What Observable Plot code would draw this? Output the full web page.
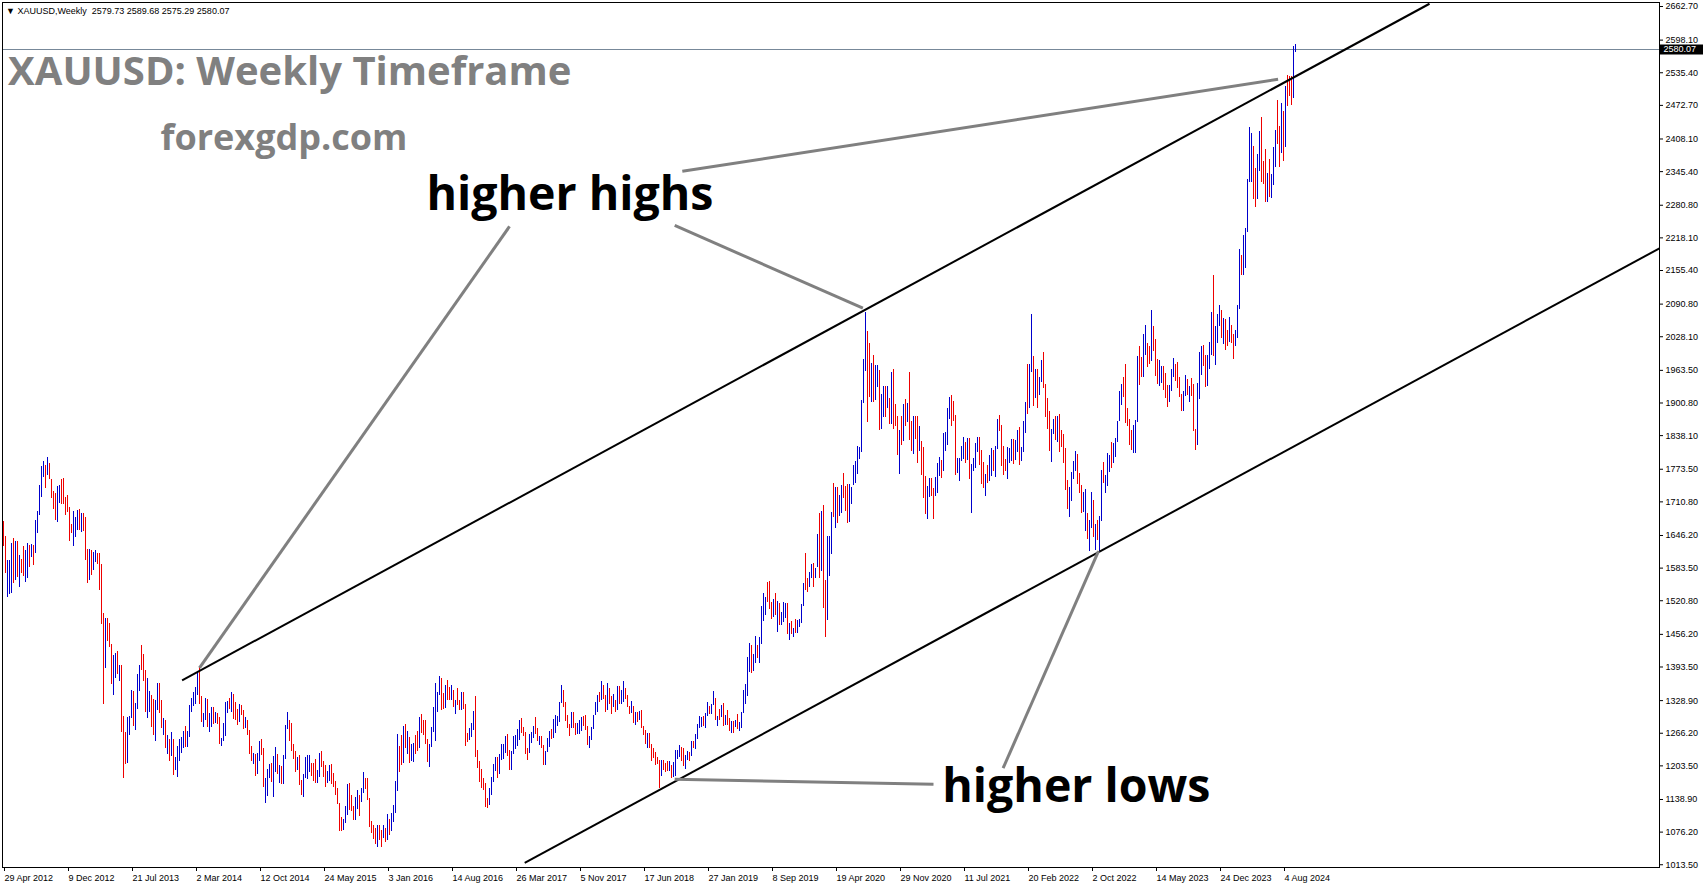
<!DOCTYPE html>
<html>
<head>
<meta charset="utf-8">
<script src="https://cdn.jsdelivr.net/npm/d3@7"></script>
<script src="https://cdn.jsdelivr.net/npm/@observablehq/plot@0.6"></script>
<style>
  html, body { margin: 0; padding: 0; background: #ffffff; }
  #chart svg { display: block; }
</style>
</head>
<body>
<div id="chart"></div>
<script>
// ---------- DATA (weekly XAUUSD bars, week 0 = 29 Apr 2012) ----------
const high = [
  // 2012
  1673,1644,1598,1599,1630,1641,1634,1634,1607,1601,1625,1618,1630,1627,1628,1627,1675,1693,1742,1779,1789,1781,1797,1785,1753,1731,1726,1740,1742,1753,1755,1720,1723,1700,1667,1693,
  // 2013
  1680,1695,1697,1688,1688,1680,1620,1619,1618,1614,1617,1612,1612,1590,1497,1486,1487,1478,1437,1415,1420,1424,1397,1396,1298,1267,1297,1298,1348,1346,1323,1380,1397,1434,1418,1386,1372,1346,1339,1331,1330,1361,1361,1329,1294,1290,1262,1255,1267,1254,1220,1240,
  // 2014
  1255,1258,1270,1280,1270,1320,1332,1345,1355,1385,1392,1337,1305,1332,1331,1305,1315,1316,1306,1304,1296,1257,1285,1325,1327,1332,1345,1340,1325,1311,1322,1320,1310,1296,1291,1272,1240,1228,1225,1227,1250,1255,1237,1179,1196,1207,1209,1221,1238,1225,1205,1202,
  // 2015
  1223,1282,1307,1290,1285,1245,1231,1220,1224,1176,1187,1219,1224,1223,1209,1208,1215,1195,1227,1232,1211,1204,1192,1205,1206,1188,1173,1160,1132,1105,1101,1126,1168,1170,1147,1125,1142,1156,1146,1160,1191,1180,1179,1141,1097,1088,1083,1088,1088,1080,1089,1084,
  // 2016
  1110,1101,1112,1127,1173,1263,1240,1261,1280,1283,1270,1258,1245,1246,1262,1270,1296,1303,1290,1290,1255,1245,1278,1316,1362,1344,1375,1372,1342,1357,1367,1354,1358,1348,1330,1352,1330,1345,1344,1322,1265,1275,1284,1308,1337,1233,1212,1196,1180,1170,1140,1160,
  // 2017
  1182,1207,1220,1220,1225,1245,1245,1260,1264,1233,1232,1259,1261,1274,1290,1295,1277,1267,1237,1264,1267,1280,1296,1275,1260,1260,1242,1232,1256,1270,1274,1292,1301,1299,1326,1357,1348,1326,1300,1283,1306,1306,1284,1284,1290,1297,1298,1300,1280,1260,1277,1300,
  // 2018
  1326,1339,1345,1366,1357,1339,1362,1352,1336,1341,1330,1356,1356,1349,1365,1353,1338,1318,1328,1318,1307,1307,1308,1309,1280,1272,1265,1265,1245,1236,1229,1220,1214,1214,1214,1209,1212,1211,1204,1210,1233,1233,1243,1238,1237,1224,1231,1229,1251,1250,1263,1283,1298,
  // 2019
  1297,1299,1305,1326,1318,1322,1346,1333,1299,1311,1320,1324,1300,1310,1295,1289,1289,1290,1303,1287,1307,1348,1359,1411,1439,1435,1418,1452,1434,1451,1510,1535,1527,1555,1557,1517,1524,1535,1519,1516,1499,1517,1516,1516,1478,1480,1467,1485,1482,1485,1514,
  // 2020
  1553,1611,1564,1575,1591,1592,1582,1649,1689,1692,1703,1560,1645,1645,1690,1747,1738,1739,1723,1743,1765,1740,1745,1744,1739,1780,1789,1818,1815,1906,1984,2075,2039,2015,1977,1992,1973,1973,1963,1917,1933,1933,1933,1910,1960,1966,1898,1875,1848,1875,1897,1907,1900,
  // 2021
  1959,1866,1875,1875,1875,1855,1826,1815,1759,1740,1755,1756,1736,1758,1785,1797,1790,1843,1845,1890,1912,1916,1903,1877,1795,1795,1818,1834,1825,1832,1832,1782,1795,1823,1834,1834,1809,1787,1764,1781,1800,1814,1810,1818,1869,1877,1858,1817,1793,1815,1814,1830,
  // 2022
  1831,1828,1847,1853,1816,1865,1902,1974,1974,2070,1990,1966,1966,1950,1982,1998,1936,1910,1884,1850,1869,1874,1875,1879,1847,1840,1813,1752,1739,1767,1788,1807,1802,1765,1743,1729,1735,1688,1675,1729,1714,1668,1675,1683,1771,1786,1761,1804,1800,1825,1823,1833,
  // 2023
  1865,1922,1937,1949,1975,1890,1870,1847,1857,1868,1990,2009,1988,2032,2049,2015,2009,2079,2048,2022,1985,1983,1971,1971,1958,1935,1935,1965,1987,1975,1979,1950,1918,1922,1953,1946,1932,1947,1936,1850,1938,1997,2009,2012,1992,1993,2017,2075,2146,2048,2070,2088,
  // 2024
  2079,2063,2062,2041,2065,2049,2032,2041,2088,2195,2185,2223,2236,2330,2431,2418,2393,2352,2378,2422,2450,2364,2388,2342,2368,2339,2392,2424,2483,2432,2477,2461,2509,2531,2529,2529,2586,2590
];
const low = [
  // 2012
  1625,1574,1527,1533,1534,1554,1560,1566,1547,1574,1567,1556,1563,1585,1603,1588,1611,1650,1685,1720,1758,1736,1761,1753,1717,1697,1675,1672,1707,1706,1705,1684,1690,1635,1650,1625,
  // 2013
  1643,1656,1655,1651,1653,1598,1554,1560,1570,1578,1595,1590,1540,1476,1321,1390,1443,1431,1359,1338,1372,1380,1366,1268,1180,1207,1208,1261,1294,1280,1272,1311,1346,1387,1366,1306,1295,1306,1277,1261,1251,1310,1304,1276,1262,1237,1226,1211,1221,1185,1195,1182,
  // 2014
  1211,1227,1236,1238,1238,1258,1307,1318,1322,1338,1321,1286,1277,1290,1278,1268,1277,1283,1284,1283,1245,1240,1250,1259,1305,1311,1307,1292,1290,1282,1286,1301,1273,1275,1262,1226,1212,1206,1183,1187,1211,1223,1161,1131,1145,1180,1172,1142,1190,1187,1170,1167,
  // 2015
  1167,1216,1274,1250,1232,1216,1191,1195,1165,1147,1142,1180,1178,1191,1183,1174,1170,1169,1182,1200,1181,1162,1170,1174,1168,1162,1147,1130,1077,1077,1080,1093,1108,1118,1116,1098,1099,1120,1107,1134,1150,1158,1137,1085,1074,1062,1052,1046,1061,1046,1063,1056,
  // 2016
  1061,1070,1078,1094,1112,1154,1191,1205,1209,1236,1226,1208,1212,1210,1226,1231,1236,1265,1262,1245,1210,1200,1239,1268,1250,1307,1338,1310,1311,1313,1330,1330,1330,1316,1302,1320,1309,1310,1312,1241,1248,1253,1258,1272,1220,1199,1171,1160,1156,1124,1122,1127,
  // 2017
  1146,1172,1193,1180,1187,1214,1216,1227,1222,1195,1195,1226,1235,1240,1252,1266,1259,1225,1214,1227,1247,1256,1264,1250,1242,1236,1205,1204,1229,1239,1254,1256,1266,1280,1287,1324,1315,1288,1276,1260,1275,1276,1262,1263,1263,1270,1280,1272,1243,1236,1253,1273,
  // 2018
  1301,1307,1326,1330,1331,1307,1310,1321,1303,1316,1307,1309,1321,1321,1325,1331,1316,1302,1305,1285,1282,1286,1290,1276,1261,1245,1237,1236,1211,1218,1204,1206,1160,1183,1195,1190,1193,1193,1180,1182,1183,1215,1219,1211,1202,1196,1213,1211,1221,1236,1234,1255,1276,
  // 2019
  1277,1280,1275,1298,1302,1302,1320,1290,1280,1290,1297,1280,1281,1281,1270,1266,1266,1278,1274,1270,1276,1305,1321,1337,1382,1381,1385,1400,1409,1400,1436,1480,1492,1517,1504,1484,1489,1493,1459,1474,1474,1479,1487,1456,1445,1456,1450,1457,1458,1469,1477,
  // 2020
  1509,1540,1536,1546,1563,1547,1563,1584,1563,1577,1505,1451,1482,1567,1610,1680,1660,1670,1683,1688,1717,1693,1670,1671,1705,1742,1747,1763,1793,1805,1900,1962,1863,1911,1902,1902,1906,1931,1848,1849,1873,1872,1890,1860,1859,1850,1855,1800,1764,1819,1826,1855,1864,
  // 2021
  1829,1807,1802,1830,1784,1807,1761,1717,1687,1676,1719,1722,1677,1721,1727,1759,1756,1769,1808,1819,1869,1856,1866,1761,1766,1750,1789,1792,1784,1790,1753,1688,1770,1775,1805,1780,1745,1737,1721,1746,1750,1759,1770,1758,1812,1846,1778,1762,1770,1753,1785,1789,
  // 2022
  1782,1790,1805,1780,1788,1806,1842,1878,1890,1960,1895,1910,1890,1915,1940,1928,1872,1850,1807,1787,1840,1828,1825,1805,1816,1784,1732,1697,1681,1711,1753,1770,1744,1727,1688,1691,1654,1639,1615,1659,1642,1617,1637,1616,1673,1747,1727,1741,1768,1774,1785,1797,
  // 2023
  1824,1866,1896,1911,1861,1855,1819,1809,1804,1804,1863,1934,1949,1949,1993,1969,1975,1981,2000,1951,1937,1932,1938,1925,1910,1893,1902,1922,1949,1942,1928,1912,1885,1884,1914,1915,1901,1913,1846,1810,1820,1908,1953,1970,1931,1932,1965,1993,1990,1973,2016,2047,
  // 2024
  2024,2013,2001,2010,2018,2015,1984,2009,2024,2080,2146,2146,2160,2228,2325,2325,2291,2277,2291,2345,2325,2321,2287,2286,2296,2293,2319,2353,2398,2353,2381,2364,2392,2471,2490,2472,2485,2575
];
// u = bullish week (close above open), d = bearish week
const direction = [
  "dduuududud","duududuuuu","ududddduud","dddddu",
  "uududddudu","uddddudddu","ududdduuud","uuuddduudd","uuddududud","uu",
  "uuuduuuuuu","dduuduudud","duuuududdd","uddudddudu","udduuuduud","ud",
  "uuuddddudd","uuuuddduud","dduudddddd","uuuddduudu","uddddddudd","ud",
  "uduuuuddud","uduudduddd","duuuuuuddu","ddududdudd","duuudddddd","du",
  "uuuduuuudd","uuuuuddddu","uuddudduuu","duuuuudddd","udduuudddu","uu",
  "uududduddu","duduudddud","ududdduddd","dddudddudu","uuudduudud","uuu",
  "uduuduudud","ududdududu","uuuuuduudu","uuudddudud","uuudududuu","u",
  "udduuduudu","dduuududuu","ddduuuuuuu","uudduduudu","udududddud","udu",
  "dduddudddu","udduuuduuu","uddduuuudu","duuuudddud","uuduuddddu","uu",
  "duuduuuduu","duduuddddu","ududdddduu","uuddduuduu","duduuduuud","uu",
  "uuuddddduu","udduuddudd","duuddduuud","ddduududdd","uuudduuudu","uu",
  "duddudduuu","duuuuudduu","ddduduuudd","ududdduu"
].join("");

// x-axis: week index of each date label, and its text
const xTickWeek = [0,32,64,96,128,160,192,224,256,288,320,352,384,416,448,480,512,544,576,608,640];
const xTickLabels = ["29 Apr 2012","9 Dec 2012","21 Jul 2013","2 Mar 2014","12 Oct 2014","24 May 2015","3 Jan 2016","14 Aug 2016","26 Mar 2017","5 Nov 2017","17 Jun 2018","27 Jan 2019","8 Sep 2019","19 Apr 2020","29 Nov 2020","11 Jul 2021","20 Feb 2022","2 Oct 2022","14 May 2023","24 Dec 2023","4 Aug 2024"];
// y-axis price ticks
const yTicks = [2662.70,2598.10,2535.40,2472.70,2408.10,2345.40,2280.80,2218.10,2155.40,2090.80,2028.10,1963.50,1900.80,1838.10,1773.50,1710.80,1646.20,1583.50,1520.80,1456.20,1393.50,1328.90,1266.20,1203.50,1138.90,1076.20,1013.50];
const lastBar = {open: 2579.73, high: 2589.68, low: 2575.29, close: 2580.07};

// trend channel (week index, price)
const channelLines = [
  {w1: 89.3, p1: 1368, w2: 713, p2: 2668},
  {w1: 260.6, p1: 1017, w2: 828, p2: 2198}
];
// grey pointer lines from annotations to swing points
const pointerLines = [
  {w1: 253, p1: 2240, w2: 98, p2: 1392},
  {w1: 335.6, p1: 2242, w2: 429.7, p2: 2083},
  {w1: 339.4, p1: 2346, w2: 637.3, p2: 2523},
  {w1: 499.8, p1: 1199, w2: 547.5, p2: 1616},
  {w1: 465, p1: 1168, w2: 335.6, p2: 1178}
];
const annotations = [
  {w: 211.5, p: 2271, text: "higher highs"},
  {w: 469.4, p: 1134, text: "higher lows"}
];
const titleText = "XAUUSD: Weekly Timeframe";
const siteText = "forexgdp.com";
const headerText = `\u25BC XAUUSD,Weekly  ${lastBar.open} ${lastBar.high} ${lastBar.low} ${lastBar.close}`;

// ---------- CHART ----------
const bars = high.map((h, i) => ({w: i, high: h, low: low[i], up: direction[i] === "u"}));
const xMax = 828;
const tickLabelOf = new Map(xTickWeek.map((w, k) => [w, xTickLabels[k]]));
const axisFont = "Liberation Sans, Arial, sans-serif";
const bigFont = "Open Sans, Noto Sans, sans-serif";

const chart = Plot.plot({
  width: 1705,
  height: 888,
  marginLeft: 2,
  marginRight: 46,
  marginTop: 2,
  marginBottom: 21,
  style: {background: "#ffffff", fontFamily: axisFont, fontSize: "9px", color: "#000"},
  x: {domain: [-0.5, xMax], axis: null},
  y: {domain: [1008.2, 2670.4], axis: null},
  marks: [
    Plot.ruleY([lastBar.close], {stroke: "#778899", strokeWidth: 1, shapeRendering: "crispEdges"}),
    Plot.ruleX(bars, {x: "w", y1: "low", y2: "high", stroke: d => d.up ? "#0000cc" : "#ee0000",
      strokeWidth: 1, shapeRendering: "crispEdges"}),
    Plot.link(channelLines, {x1: "w1", y1: "p1", x2: "w2", y2: "p2", stroke: "#000000", strokeWidth: 2, clip: true}),
    Plot.link(pointerLines, {x1: "w1", y1: "p1", x2: "w2", y2: "p2", stroke: "#808080", strokeWidth: 3}),
    Plot.text(annotations, {x: "w", y: "p", text: "text", textAnchor: "start", lineAnchor: "bottom",
      fontFamily: bigFont, fontWeight: 700, fontSize: 46.5, fill: "#000000"}),
    Plot.text([titleText], {frameAnchor: "top-left", text: d => d, textAnchor: "start", lineAnchor: "bottom",
      dx: 5.6, dy: 82, fontFamily: bigFont, fontWeight: 700, fontSize: 40, fill: "#808080"}),
    Plot.text([siteText], {frameAnchor: "top-left", text: d => d, textAnchor: "start", lineAnchor: "bottom",
      dx: 158, dy: 147, fontFamily: bigFont, fontWeight: 700, fontSize: 36, fill: "#808080"}),
    Plot.text([headerText], {frameAnchor: "top-left", text: d => d, textAnchor: "start", lineAnchor: "bottom",
      dx: 3.5, dy: 11, fontFamily: axisFont, fontSize: 9, fill: "#000000"}),
    Plot.axisY(yTicks, {anchor: "right", tickSize: 3, tickPadding: 3, tickFormat: d => d.toFixed(2),
      fontSize: 9, fontFamily: axisFont, label: null}),
    Plot.axisX(xTickWeek, {anchor: "bottom", tickSize: 4, tickPadding: 3, tickFormat: d => tickLabelOf.get(d),
      textAnchor: "start", dx: 1, fontSize: 9, fontFamily: axisFont, label: null}),
    Plot.ruleY([lastBar.close], {x1: xMax + 0.5, x2: xMax + 22, stroke: "#000000", strokeWidth: 10}),
    Plot.text([lastBar.close], {y: d => d, x: xMax, text: d => d.toFixed(2), textAnchor: "start", dx: 4,
      fill: "#ffffff", fontSize: 9, fontFamily: axisFont}),
    Plot.frame({stroke: "#000000"})
  ]
});
document.getElementById("chart").appendChild(chart);
</script>
</body>
</html>
